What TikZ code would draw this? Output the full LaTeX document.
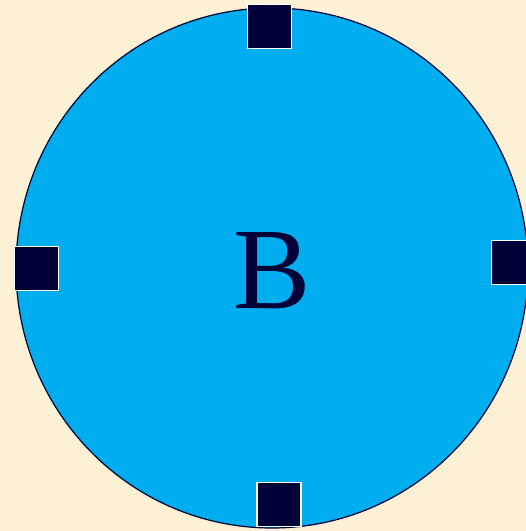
\documentclass[tikz,border=0pt]{standalone}
\usepackage{fontspec}
\usetikzlibrary{shapes.geometric}
\setmainfont{Liberation Serif}
\definecolor{bgc}{HTML}{FCF1D4}
\definecolor{disc}{HTML}{00AEEF}
\definecolor{navy}{HTML}{000038}
\begin{document}
\begin{tikzpicture}[x=1pt,y=-1pt,
  port/.style={draw=white,line width=1.5pt,fill=navy,minimum size=44pt,inner sep=0pt}]
\fill[bgc] (0,0) rectangle (526,531);
\useasboundingbox (0,0) rectangle (526,531);
\node[ellipse,draw=navy,line width=1.2pt,fill=disc,minimum width=512pt,minimum height=520pt,inner sep=0pt] (c) at (272,268) {};
\node[text=navy,inner sep=0pt,font=\fontsize{116}{116}\selectfont] (b) at (272,271) {B};
\node[port] (t) at (269.5,26.5) {};
\node[port] (l) at (36.5,268.5) {};
\node[port] (r) at (513.5,262.5) {};
\node[port] (bt) at (279,504.5) {};
\end{tikzpicture}
\end{document}
